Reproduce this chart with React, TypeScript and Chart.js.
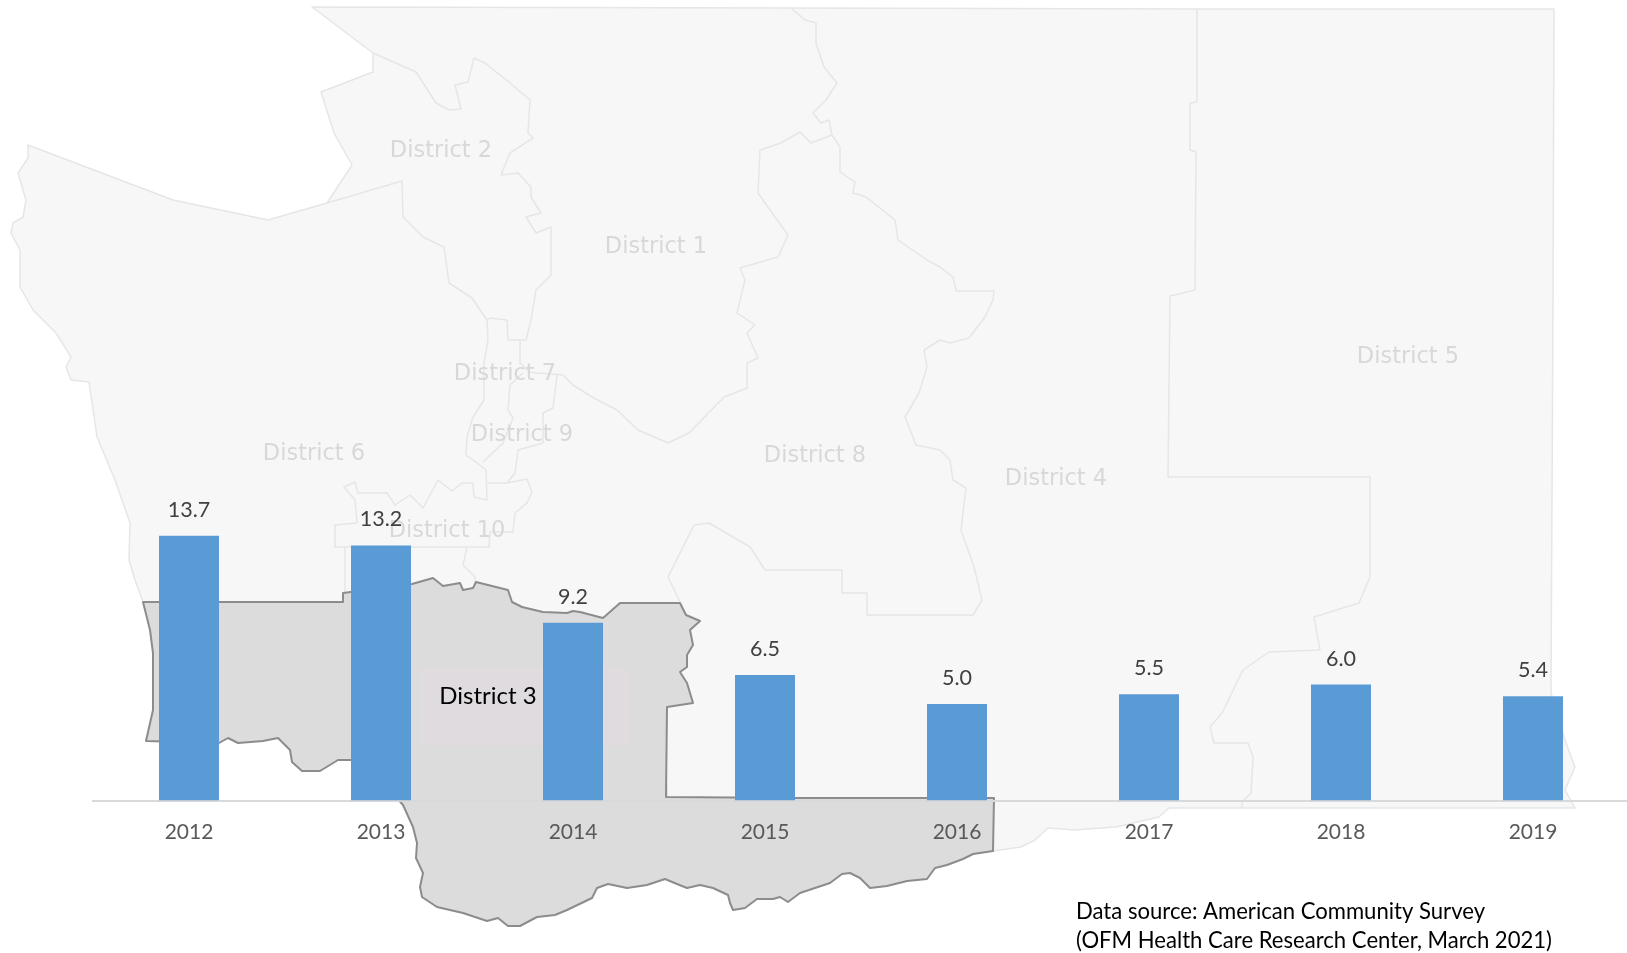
import React, { useEffect, useRef } from "react";
import { Chart, registerables } from "chart.js";

Chart.register(...registerables);

const years = ["2012", "2013", "2014", "2015", "2016", "2017", "2018", "2019"];
const rates = [13.7, 13.2, 9.2, 6.5, 5.0, 5.5, 6.0, 5.4];
const sourceLines = [
  "Data source: American Community Survey",
  "(OFM Health Care Research Center, March 2021)",
];

type Pt = number[];

// Background map (a picture behind the chart, in page pixels)
const stateOutline: Pt[] = [
  [312,7],[791,8],[1197,9],[1554,9],[1553,300],[1551,693],[1565,740],[1575,767],[1565,790],[1575,808],
  [1243,808],[1169,808],[1159,817],[1116,827],[1074,830],[1048,828],[1035,840],[1021,847],[993,851],
  [993,800],[668,800],[660,720],[600,700],[200,650],[143,602],[135,580],[129,560],[130,523],[115,480],[97,437],[89,382],
  [71,380],[66,367],[71,357],[56,333],[33,310],[20,287],[20,250],[11,233],[13,223],[23,217],[26,200],
  [18,173],[28,158],[28,145],[173,200],[268,220],[327,203],[352,165],[334,133],[321,92],[373,72],[373,53],
];
const district3: Pt[] = [
  [143,602],[343,602],[343,593],[412,584],[433,578],[443,586],[460,583],[463,590],[473,588],[476,582],
  [508,590],[512,602],[522,607],[543,612],[567,613],[573,611],[580,612],[603,618],[620,603],[680,603],
  [686,615],[700,621],[690,630],[693,645],[687,655],[687,667],[680,672],[687,683],[693,703],[667,707],
  [666,797],[800,798],[994,798],[993,851],[973,854],[963,859],[947,865],[935,868],[927,879],[907,881],
  [887,886],[870,888],[860,878],[850,873],[842,874],[830,883],[800,893],[788,902],[780,897],[773,899],
  [757,899],[745,908],[733,910],[730,903],[728,895],[713,888],[700,885],[687,888],[677,884],[665,879],
  [647,885],[627,888],[608,884],[597,888],[592,898],[567,910],[555,915],[537,917],[520,926],[508,926],
  [498,918],[487,921],[463,913],[437,907],[422,897],[420,887],[423,873],[416,858],[417,843],[413,827],
  [403,805],[390,790],[351,760],[338,760],[320,771],[302,771],[292,762],[290,750],[278,738],[263,741],
  [238,743],[228,738],[219,743],[146,741],[153,710],[153,653],[150,630],
];
const districtLines: Pt[][] = [
  [[373,53],[416,72],[436,103],[449,110],[461,109],[455,85],[468,82],[474,58],[485,63],[510,83],[530,100],
   [528,133],[533,138],[510,153],[501,175],[518,173],[531,187],[531,197],[541,213],[526,217],[536,233],
   [551,227],[551,275],[536,290],[531,320],[526,340],[508,340],[507,320]],
  [[327,203],[402,181],[403,217],[423,237],[444,247],[449,283],[472,298],[487,320],[488,340],[484,363],
   [484,400],[473,417],[467,437],[466,455],[477,463],[486,470],[487,500],[474,497],[473,483],[462,483],
   [452,491],[438,480],[423,508],[410,495],[395,505],[387,493],[358,493],[355,482],[344,487],[355,500],[357,523]],
  [[507,320],[490,318],[487,320]],
  [[520,340],[520,363],[530,372],[537,373],[563,375],[573,385],[592,397],[617,410],[638,430],[668,443],
   [689,433],[724,397],[747,388],[747,363],[758,358],[747,333],[755,325],[737,313],[745,280],[740,268],
   [778,257],[788,235],[770,210],[758,193],[760,150],[781,143],[800,132],[811,143],[832,135]],
  [[791,8],[805,20],[816,23],[816,43],[824,67],[837,83],[826,100],[813,113],[821,123],[829,120],[832,135],
   [840,147],[840,172],[855,182],[853,193],[866,197],[895,220],[898,240],[927,260],[940,267],[953,277],
   [956,291],[994,291],[993,300],[985,317],[969,338],[950,343],[940,340],[924,350],[927,367],[919,393],
   [905,417],[916,445],[940,450],[950,460],[953,480],[966,488],[961,530],[974,567],[982,600],[973,615],
   [867,615],[867,593],[842,593],[842,570],[765,570],[750,547],[709,523],[694,525],[668,577],[681,604]],
  [[1197,9],[1197,102],[1190,103],[1190,150],[1196,152],[1195,290],[1170,296],[1168,477],[1370,477],
   [1370,577],[1359,603],[1314,617],[1320,650],[1269,652],[1243,670],[1222,713],[1210,727],[1214,743],
   [1248,743],[1253,757],[1251,793],[1242,802],[1242,808]],
  [[357,523],[335,525],[335,547],[345,547],[345,593]],
  [[345,547],[489,547],[490,532],[513,532],[515,513],[527,503],[532,492],[527,479],[507,483],[487,483]],
  [[467,548],[463,565],[475,577],[475,587]],
  [[523,373],[510,385],[508,410],[513,418],[503,443],[483,462]],
  [[557,375],[553,408],[543,413],[543,443],[518,450],[515,473],[507,483]],
];
const districtLabels: [string, number, number][] = [
  ["District 2", 441, 151],
  ["District 1", 656, 247],
  ["District 7", 505, 374],
  ["District 9", 522, 435],
  ["District 6", 314, 454],
  ["District 10", 447, 531],
  ["District 8", 815, 456],
  ["District 4", 1056, 479],
  ["District 5", 1408, 357],
];

function tracePath(ctx: CanvasRenderingContext2D, pts: Pt[], close: boolean) {
  ctx.beginPath();
  pts.forEach(([x, y], i) => (i ? ctx.lineTo(x, y) : ctx.moveTo(x, y)));
  if (close) ctx.closePath();
}

const mapPlugin = {
  id: "mapBackdrop",
  beforeDraw(chart: any) {
    const ctx: CanvasRenderingContext2D = chart.ctx;
    ctx.save();
    ctx.lineJoin = "round";
    tracePath(ctx, stateOutline, true);
    ctx.fillStyle = "#f7f7f7";
    ctx.fill();
    ctx.strokeStyle = "#e6e6e6";
    ctx.lineWidth = 1.5;
    ctx.stroke();
    districtLines.forEach((l) => {
      tracePath(ctx, l, false);
      ctx.stroke();
    });
    tracePath(ctx, district3, true);
    ctx.fillStyle = "#dcdcdc";
    ctx.fill();
    ctx.strokeStyle = "#8c8c8c";
    ctx.lineWidth = 2;
    ctx.stroke();
    ctx.fillStyle = "#dfdbde";
    ctx.fillRect(420, 668, 209, 78);

    ctx.textAlign = "center";
    ctx.textBaseline = "middle";
    ctx.font = '22.5px "DejaVu Sans"';
    ctx.fillStyle = "#d8d8d8";
    districtLabels.forEach(([t, x, y]) => ctx.fillText(t, x, y));

    ctx.font = "24px Lato";
    ctx.fillStyle = "#000000";
    ctx.fillText("District 3", 488, 696);

    ctx.textAlign = "left";
    ctx.font = "22.1px Lato";
    ctx.fillStyle = "#000000";
    sourceLines.forEach((t, i) => ctx.fillText(t, 1076, 911.5 + i * 29));
    ctx.restore();
  },
};

const valueLabelPlugin = {
  id: "valueLabels",
  afterDatasetsDraw(chart: any) {
    const ctx: CanvasRenderingContext2D = chart.ctx;
    const meta = chart.getDatasetMeta(0);
    ctx.save();
    ctx.font = "21.5px Lato";
    ctx.fillStyle = "#404040";
    ctx.textAlign = "center";
    ctx.textBaseline = "middle";
    meta.data.forEach((bar: any, i: number) => {
      ctx.fillText(rates[i].toFixed(1), bar.x, bar.y - 26);
    });
    ctx.restore();
  },
};

export default function App() {
  const ref = useRef<HTMLCanvasElement>(null);
  useEffect(() => {
    const chart = new Chart(ref.current!, {
      type: "bar",
      data: {
        labels: years,
        datasets: [
          {
            data: rates,
            backgroundColor: "#5b9bd5",
            borderWidth: 0,
            categoryPercentage: 1,
            barPercentage: 0.3125,
          },
        ],
      },
      options: {
        animation: false,
        responsive: false,
        devicePixelRatio: 1,
        layout: { padding: { left: 93, right: 0, top: 0, bottom: 0 } },
        plugins: { legend: { display: false }, tooltip: { enabled: false } },
        scales: {
          x: {
            grid: { display: false, drawTicks: false },
            border: { display: true, color: "#d9d9d9", width: 2 },
            ticks: {
              color: "#595959",
              font: { family: "Lato", size: 21 },
              padding: 19,
              maxRotation: 0,
              autoSkip: false,
            },
            afterFit(scale: any) {
              scale.height = 152.5;
            },
          },
          y: { display: false, min: 0, max: 41.43 },
        },
      },
      plugins: [mapPlugin, valueLabelPlugin],
    } as any);
    return () => chart.destroy();
  }, []);
  return (
    <div style={{ position: "fixed", left: 0, top: 0, width: 1627, height: 953, overflow: "hidden", background: "#fff" }}>
      <canvas ref={ref} width={1629} height={953} style={{ display: "block" }} />
    </div>
  );
}
